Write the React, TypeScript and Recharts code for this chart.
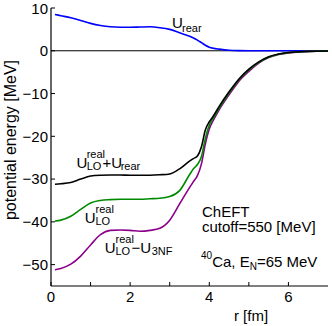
import { LineChart, Line, XAxis, YAxis, ReferenceLine } from 'recharts';

// radius grid [fm]
const radius = [
  0.1, 0.25, 0.5, 0.75, 1.0, 1.25, 1.5, 1.75, 2.0, 2.25, 2.5, 2.75, 3.0, 3.25, 3.5, 3.6,
  3.7, 3.8, 3.9, 4.0, 4.1, 4.25, 4.5, 4.75, 5.0, 5.25, 5.5, 5.75, 6.0, 6.5, 7.0,
];

// potentials [MeV]
const uRear = [
  8.5, 8.2, 7.7, 7.1, 6.4, 5.9, 5.6, 5.5, 5.5, 5.55, 5.6, 5.4, 5.0, 4.2, 3.4, 3.0,
  2.5, 1.9, 1.3, 0.85, 0.6, 0.38, 0.12, 0.04, 0.02, 0.01, 0, 0, 0, 0, 0,
];
const uLoPlusRear = [
  -31.2, -31.1, -30.8, -30.0, -29.3, -29.1, -29.05, -29.05, -29.1, -29.1, -29.1, -29.0, -28.8, -27.6, -25.8, -25.2,
  -24.6, -22.5, -18.5, -16.6, -15.3, -13.0, -9.6, -6.6, -4.3, -2.6, -1.4, -0.75, -0.4, -0.15, -0.05,
];
const uLo = [
  -39.8, -39.6, -38.7, -37.1, -35.6, -35.0, -34.8, -34.7, -34.7, -34.7, -34.6, -34.5, -34.1, -32.7, -29.0, -27.6,
  -26.6, -24.8, -20.5, -17.4, -15.8, -13.4, -9.9, -6.8, -4.5, -2.7, -1.5, -0.8, -0.45, -0.15, -0.05,
];
const uLoMinus3nf = [
  -51.2, -50.9, -49.9, -48.0, -45.4, -43.0, -42.0, -41.9, -42.0, -42.2, -42.0, -41.5, -39.6, -35.8, -32.0, -30.6,
  -29.2, -26.5, -21.8, -18.3, -16.3, -13.8, -10.3, -7.1, -4.8, -2.9, -1.6, -0.85, -0.5, -0.17, -0.05,
];

const xTicks = [0, 1, 2, 3, 4, 5, 6];
const xLabels = [0, 2, 4, 6];
const yTicks = [-50, -40, -30, -20, -10, 0, 10];

const data = radius.map((r, i) => ({
  r,
  rear: uRear[i],
  loRear: uLoPlusRear[i],
  lo: uLo[i],
  lo3nf: uLoMinus3nf[i],
}));

const font = 'Liberation Sans, Arial, sans-serif';
const tickStyle = { fill: '#000', fontSize: 15, fontFamily: font };
const fmt = (v: number) => String(v).replace('-', '\u2212');
const blank = () => '';

export default function App() {
  return (
    <div style={{ position: 'absolute', left: 0, top: 0, width: 332, height: 326, background: '#fff' }}>
      <LineChart width={332} height={326} data={data} margin={{ top: 8, right: 4, left: 8, bottom: 0 }}>
        <XAxis
          xAxisId="b"
          type="number"
          dataKey="r"
          domain={[0, 7]}
          ticks={xTicks}
          tickFormatter={(v: number) => (xLabels.includes(v) ? String(v) : '')}
          height={40}
          tickSize={-4}
          tickMargin={9}
          tick={tickStyle}
          axisLine={{ stroke: '#000', strokeWidth: 1.2 }}
          tickLine={{ stroke: '#000' }}
        />
        <XAxis
          xAxisId="t"
          orientation="top"
          type="number"
          dataKey="r"
          domain={[0, 7]}
          ticks={xTicks}
          tickFormatter={blank}
          height={0}
          tickSize={-4}
          axisLine={{ stroke: '#000', strokeWidth: 1.2 }}
          tickLine={{ stroke: '#000' }}
        />
        <YAxis
          yAxisId="l"
          type="number"
          domain={[-55, 10]}
          ticks={yTicks}
          tickFormatter={fmt}
          width={43}
          tickSize={-4}
          tickMargin={7}
          tick={tickStyle}
          axisLine={{ stroke: '#000', strokeWidth: 1.2 }}
          tickLine={{ stroke: '#000' }}
        />
        <YAxis
          yAxisId="r"
          orientation="right"
          type="number"
          domain={[-55, 10]}
          ticks={yTicks}
          tickFormatter={blank}
          width={0}
          tickSize={-4}
          axisLine={{ stroke: '#000', strokeWidth: 1.2 }}
          tickLine={{ stroke: '#000' }}
        />
        <ReferenceLine xAxisId="b" yAxisId="l" y={0} stroke="#000" strokeWidth={1} />
        <Line xAxisId="b" yAxisId="l" type="monotone" dataKey="rear" stroke="#0000ff" strokeWidth={1.6} dot={false} isAnimationActive={false} />
        <Line xAxisId="b" yAxisId="l" type="monotone" dataKey="lo3nf" stroke="#8b008b" strokeWidth={1.6} dot={false} isAnimationActive={false} />
        <Line xAxisId="b" yAxisId="l" type="monotone" dataKey="lo" stroke="#008a00" strokeWidth={1.6} dot={false} isAnimationActive={false} />
        <Line xAxisId="b" yAxisId="l" type="monotone" dataKey="loRear" stroke="#000000" strokeWidth={1.6} dot={false} isAnimationActive={false} />
      </LineChart>
      <svg width={332} height={326} style={{ position: 'absolute', left: 0, top: 0, pointerEvents: 'none' }} fontFamily={font} fill="#000">
        <text x={10} y={140} fontSize={16} textAnchor="middle" dominantBaseline="central" transform="rotate(-90 10 140)">
          potential energy [MeV]
        </text>
        <text x={251} y={321} fontSize={15} textAnchor="middle">r  [fm]</text>

        {/* U_rear */}
        <text fontSize={15}>
          <tspan x={172} y={28.3}>U</tspan>
          <tspan x={182} y={31.7} fontSize={11}>rear</tspan>
        </text>

        {/* U_LO^real + U_rear */}
        <text fontSize={15}>
          <tspan x={76.5} y={168.3}>U</tspan>
          <tspan x={86.7} y={158.3} fontSize={11}>real</tspan>
          <tspan x={86.7} y={169.5} fontSize={11}>LO</tspan>
          <tspan x={102.5} y={168.3}>+U</tspan>
          <tspan x={120.7} y={169.5} fontSize={11}>rear</tspan>
        </text>

        {/* U_LO^real */}
        <text fontSize={15}>
          <tspan x={84.8} y={223.3}>U</tspan>
          <tspan x={95.5} y={213.3} fontSize={11}>real</tspan>
          <tspan x={95.5} y={224.8} fontSize={11}>LO</tspan>
        </text>

        {/* U_LO^real - U_3NF */}
        <text fontSize={15}>
          <tspan x={104.8} y={253.3}>U</tspan>
          <tspan x={115.5} y={243.3} fontSize={11}>real</tspan>
          <tspan x={115.5} y={254.8} fontSize={11}>LO</tspan>
          <tspan x={131.5} y={253.3}>{'\u2212U'}</tspan>
          <tspan x={151.7} y={254.8} fontSize={11}>3NF</tspan>
        </text>

        <text x={202} y={216.5} fontSize={15}>ChEFT</text>
        <text x={202} y={232} fontSize={15}>cutoff=550 [MeV]</text>
        <text x={201} y={266.7} fontSize={15}>
          <tspan fontSize={10} dy={-8}>40</tspan>
          <tspan dy={8}>Ca, E</tspan>
          <tspan fontSize={10} dy={3}>N</tspan>
          <tspan dy={-3}>=65 MeV</tspan>
        </text>
      </svg>
    </div>
  );
}
